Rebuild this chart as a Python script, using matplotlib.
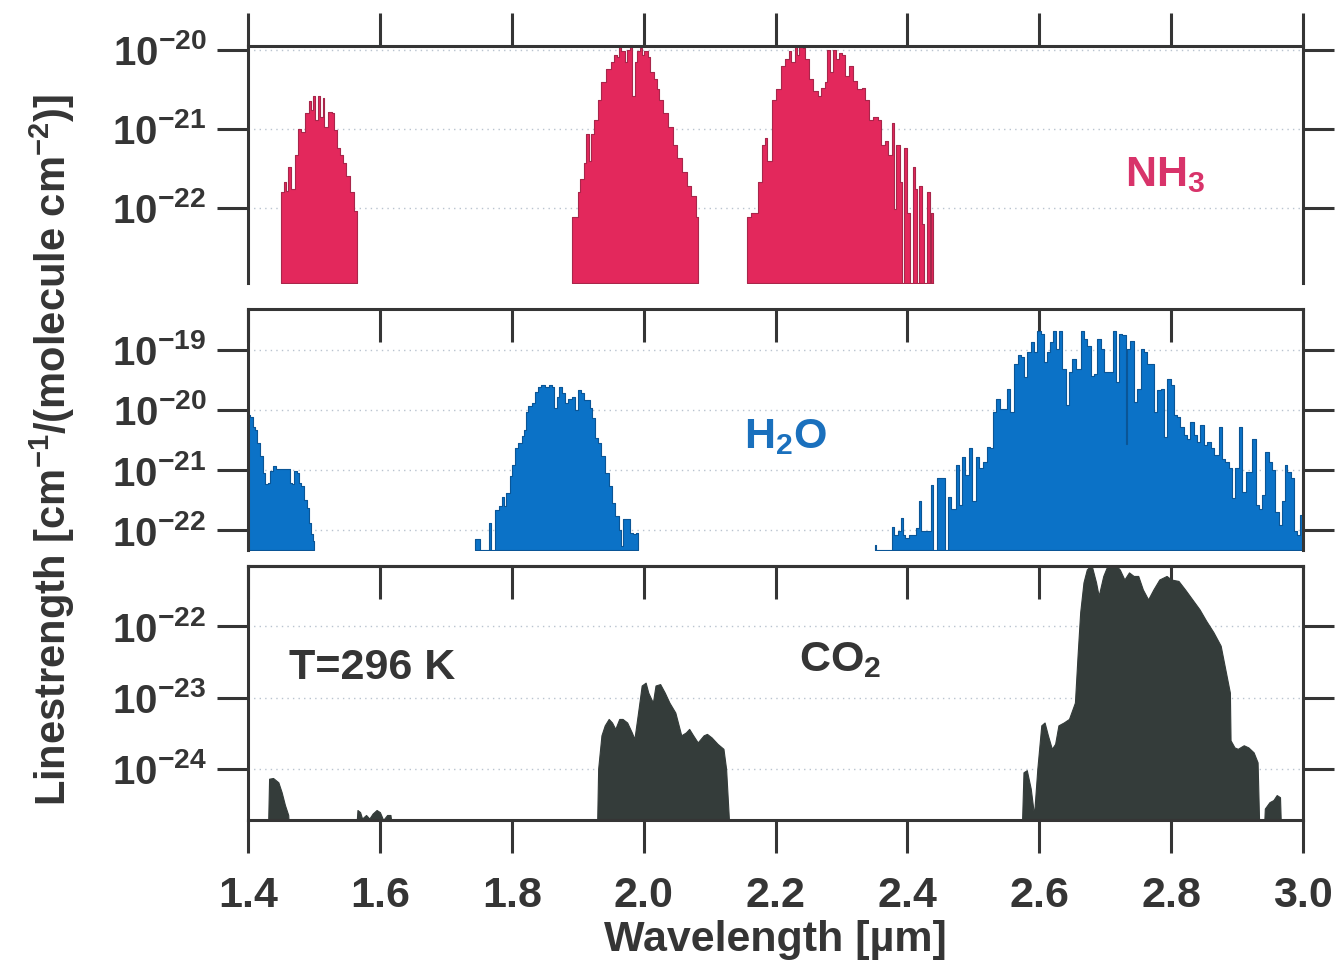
import numpy as np
import matplotlib.pyplot as plt
from matplotlib.ticker import NullLocator

plt.rcParams['font.family'] = ['Liberation Sans', 'DejaVu Sans']
plt.rcParams['font.weight'] = 'bold'
plt.rcParams['mathtext.fontset'] = 'custom'
plt.rcParams['mathtext.rm'] = 'Liberation Sans:bold'
plt.rcParams['mathtext.it'] = 'Liberation Sans:bold:italic'
plt.rcParams['mathtext.bf'] = 'Liberation Sans:bold'
plt.rcParams['mathtext.default'] = 'regular'

# (wavelength um, log10 linestrength); -30 = gap between lines
nh3_band1 = [(1.450, -21.80), (1.451, -21.80), (1.455, -21.67), (1.458, -21.78), (1.461, -21.48),
             (1.465, -21.76), (1.471, -21.33), (1.476, -21.00), (1.481, -21.04), (1.486, -20.80),
             (1.492, -20.65), (1.495, -20.76), (1.499, -20.59), (1.502, -20.89), (1.506, -20.59),
             (1.509, -20.85), (1.513, -20.61), (1.516, -20.98), (1.521, -20.78), (1.527, -20.80),
             (1.530, -21.02), (1.535, -21.24), (1.539, -21.33), (1.544, -21.43), (1.549, -21.59),
             (1.555, -21.80), (1.560, -22.04), (1.565, -22.22)]
nh3_band2 = [(1.892, -22.11), (1.901, -21.80), (1.904, -21.63), (1.910, -21.43), (1.913, -21.07),
             (1.917, -21.41), (1.920, -21.07), (1.925, -20.89), (1.931, -20.63), (1.936, -20.41),
             (1.943, -20.24), (1.950, -20.15), (1.955, -20.07), (1.959, -20.09), (1.962, -19.96),
             (1.966, -20.02), (1.971, -20.15), (1.974, -20.00), (1.980, -19.93), (1.983, -20.59),
             (1.987, -20.15), (1.990, -20.02), (1.994, -19.98), (1.997, -20.07), (2.001, -20.02),
             (2.006, -20.09), (2.009, -20.28), (2.015, -20.37), (2.020, -20.50), (2.024, -20.63),
             (2.030, -20.80), (2.037, -20.98), (2.044, -21.20), (2.051, -21.37), (2.058, -21.54),
             (2.065, -21.72), (2.072, -21.85), (2.079, -22.11), (2.083, -22.22)]
nh3_band3 = [(2.156, -22.11), (2.163, -22.07), (2.173, -21.67), (2.180, -21.20), (2.184, -21.11),
             (2.187, -21.41), (2.194, -20.63), (2.201, -20.50), (2.208, -20.20), (2.215, -20.11),
             (2.220, -20.02), (2.224, -20.15), (2.229, -19.93), (2.233, -20.07), (2.236, -19.89),
             (2.241, -19.98), (2.245, -20.11), (2.250, -20.37), (2.257, -20.52), (2.264, -20.59),
             (2.269, -20.48), (2.275, -20.41), (2.278, -20.00), (2.283, -20.28), (2.287, -20.00),
             (2.292, -20.11), (2.296, -20.04), (2.301, -20.07), (2.306, -20.33), (2.311, -20.20),
             (2.317, -20.39), (2.324, -20.50), (2.331, -20.48), (2.336, -20.63), (2.341, -20.89),
             (2.348, -20.85), (2.355, -20.89), (2.360, -21.20), (2.366, -21.15), (2.371, -21.33),
             (2.376, -20.93), (2.380, -22.02), (2.383, -21.20), (2.388, -21.67), (2.392, -30),
             (2.395, -21.24), (2.399, -22.07), (2.404, -30), (2.408, -21.48), (2.411, -21.76),
             (2.415, -30), (2.418, -21.72), (2.422, -22.20), (2.425, -30), (2.430, -21.80),
             (2.434, -30), (2.436, -22.07), (2.439, -30)]

h2o_band1 = [(1.400, -20.08), (1.403, -20.11), (1.407, -20.28), (1.411, -20.33), (1.414, -20.55),
             (1.418, -20.77), (1.422, -21.05), (1.426, -21.24), (1.431, -21.22), (1.434, -21.02),
             (1.438, -20.94), (1.443, -20.99), (1.451, -20.98), (1.459, -20.99), (1.463, -21.22),
             (1.466, -21.24), (1.470, -21.02), (1.474, -21.05), (1.478, -21.22), (1.481, -21.27),
             (1.485, -21.49), (1.489, -21.63), (1.493, -21.88), (1.496, -22.07), (1.498, -22.18),
             (1.500, -22.32)]
h2o_band2 = [(1.744, -22.15), (1.752, -30), (1.765, -21.88), (1.768, -30),
             (1.775, -21.66), (1.777, -21.66), (1.781, -21.60), (1.785, -21.44), (1.788, -21.60),
             (1.792, -21.38), (1.797, -21.10), (1.801, -20.91), (1.805, -20.64), (1.810, -20.55),
             (1.815, -20.44), (1.819, -20.33), (1.822, -20.03), (1.825, -19.94), (1.830, -19.89),
             (1.835, -19.70), (1.840, -19.61), (1.845, -19.59), (1.850, -19.61), (1.856, -19.59),
             (1.861, -19.61), (1.864, -19.97), (1.868, -19.78), (1.872, -19.61), (1.876, -19.72),
             (1.881, -19.89), (1.886, -19.81), (1.891, -19.78), (1.896, -20.00), (1.901, -19.67),
             (1.905, -19.72), (1.909, -19.83), (1.914, -19.83), (1.918, -19.97), (1.921, -20.14),
             (1.926, -20.47), (1.931, -20.55), (1.936, -20.77), (1.941, -21.05), (1.947, -21.27),
             (1.952, -21.55), (1.957, -21.77), (1.962, -21.99), (1.965, -22.27), (1.969, -21.82),
             (1.974, -21.82), (1.979, -22.04), (1.984, -22.07), (1.988, -22.04), (1.992, -22.32)]
h2o_band3 = [(2.351, -22.25), (2.353, -30),
             (2.377, -21.94), (2.380, -22.08), (2.385, -22.02), (2.390, -21.80), (2.394, -22.08),
             (2.397, -22.13), (2.403, -22.08), (2.408, -22.08), (2.413, -21.97), (2.418, -21.52),
             (2.421, -22.02), (2.425, -22.02), (2.430, -22.02), (2.435, -21.25), (2.439, -30),
             (2.445, -21.14), (2.453, -21.14), (2.457, -30), (2.462, -21.44), (2.466, -21.64),
             (2.473, -20.92), (2.478, -21.58), (2.483, -20.78), (2.488, -21.08), (2.493, -20.64),
             (2.498, -21.52), (2.504, -20.78), (2.509, -20.97), (2.514, -20.86), (2.520, -20.61),
             (2.525, -20.64), (2.530, -20.03), (2.535, -19.81), (2.540, -19.98), (2.545, -19.98),
             (2.551, -19.65), (2.556, -20.03), (2.561, -19.23), (2.567, -19.09), (2.572, -19.12),
             (2.577, -19.45), (2.582, -19.04), (2.587, -18.87), (2.592, -19.04), (2.596, -18.68),
             (2.602, -18.73), (2.607, -19.20), (2.611, -19.04), (2.616, -18.87), (2.620, -18.68),
             (2.625, -18.98), (2.630, -18.68), (2.635, -19.31), (2.640, -19.92), (2.645, -19.37),
             (2.650, -19.15), (2.655, -19.31), (2.663, -18.68), (2.668, -18.82), (2.673, -18.93),
             (2.678, -19.43), (2.683, -19.40), (2.688, -18.82), (2.693, -18.98), (2.698, -19.37),
             (2.703, -19.37), (2.711, -18.68), (2.716, -19.54), (2.721, -18.73), (2.726, -18.76),
             (2.731, -20.56), (2.733, -18.98), (2.738, -18.85), (2.743, -19.87), (2.748, -19.65),
             (2.754, -18.98), (2.759, -19.04), (2.764, -19.23), (2.769, -19.23), (2.774, -20.03),
             (2.779, -19.67), (2.784, -19.65), (2.789, -20.45), (2.794, -19.48), (2.799, -19.59),
             (2.804, -20.09), (2.809, -20.12), (2.814, -20.28), (2.819, -20.42), (2.824, -20.48),
             (2.829, -20.20), (2.834, -20.42), (2.839, -20.53), (2.844, -20.25), (2.849, -20.59),
             (2.855, -20.53), (2.860, -20.64), (2.865, -20.75), (2.872, -20.28), (2.877, -20.81),
             (2.882, -20.86), (2.887, -20.97), (2.892, -21.47), (2.897, -20.97), (2.903, -20.28),
             (2.908, -21.36), (2.913, -21.03), (2.918, -21.03), (2.923, -20.48), (2.928, -21.58),
             (2.933, -21.64), (2.938, -21.41), (2.943, -20.70), (2.948, -20.86), (2.953, -21.00),
             (2.958, -21.69), (2.963, -21.91), (2.968, -21.52), (2.972, -20.92), (2.976, -21.03),
             (2.981, -21.14), (2.986, -22.02), (2.991, -22.08), (2.996, -21.75), (3.000, -21.14)]

co2_band1 = [(1.430, -25), (1.432, -24.14), (1.438, -24.13), (1.446, -24.19), (1.451, -24.33),
             (1.456, -24.51), (1.461, -24.65), (1.463, -25)]
co2_band2 = [(1.563, -25), (1.566, -24.58), (1.570, -24.61), (1.573, -24.70), (1.579, -24.65),
             (1.584, -24.70), (1.589, -24.63), (1.595, -24.58), (1.600, -24.61), (1.605, -24.72),
             (1.611, -24.65), (1.616, -24.65), (1.621, -25)]
co2_band3 = [(1.929, -25), (1.931, -24.00), (1.936, -23.53), (1.941, -23.39), (1.947, -23.30),
             (1.952, -23.35), (1.957, -23.44), (1.963, -23.30), (1.968, -23.30), (1.975, -23.35),
             (1.982, -23.49), (1.986, -23.58), (1.993, -23.11), (1.997, -22.83), (2.003, -22.79),
             (2.007, -22.93), (2.014, -23.07), (2.018, -22.83), (2.025, -22.81), (2.032, -22.93),
             (2.039, -23.07), (2.048, -23.21), (2.057, -23.53), (2.064, -23.49), (2.069, -23.44),
             (2.075, -23.53), (2.082, -23.63), (2.091, -23.53), (2.096, -23.51), (2.103, -23.56),
             (2.112, -23.65), (2.121, -23.72), (2.125, -24.00), (2.131, -25)]
co2_band4 = [(2.573, -25), (2.576, -24.05), (2.581, -24.02), (2.587, -24.28), (2.592, -24.65),
             (2.597, -24.00), (2.603, -23.39), (2.608, -23.35), (2.613, -23.53), (2.619, -23.72),
             (2.624, -23.65), (2.629, -23.39), (2.637, -23.35), (2.645, -23.30), (2.654, -23.07),
             (2.658, -22.41), (2.662, -21.80), (2.667, -21.38), (2.672, -21.20), (2.679, -21.13),
             (2.686, -21.38), (2.690, -21.57), (2.697, -21.29), (2.704, -21.13), (2.715, -21.13),
             (2.722, -21.20), (2.729, -21.34), (2.736, -21.24), (2.743, -21.29), (2.750, -21.29),
             (2.757, -21.48), (2.765, -21.62), (2.773, -21.48), (2.782, -21.34), (2.793, -21.29),
             (2.800, -21.34), (2.811, -21.36), (2.821, -21.48), (2.832, -21.62), (2.843, -21.76),
             (2.853, -21.92), (2.864, -22.08), (2.875, -22.27), (2.882, -22.60), (2.889, -22.93),
             (2.890, -23.60), (2.896, -23.70), (2.901, -23.72), (2.910, -23.67), (2.917, -23.70),
             (2.925, -23.77), (2.931, -23.91), (2.934, -25)]
co2_band5 = [(2.940, -25), (2.942, -24.56), (2.949, -24.47), (2.955, -24.44), (2.960, -24.37),
             (2.965, -24.40), (2.967, -25)]

xticks = [1.4, 1.6, 1.8, 2.0, 2.2, 2.4, 2.6, 2.8, 3.0]
xticklabels = ['1.4', '1.6', '1.8', '2.0', '2.2', '2.4', '2.6', '2.8', '3.0']
nh3_decades = [-20, -21, -22]
h2o_decades = [-19, -20, -21, -22]
co2_decades = [-22, -23, -24]

dark = '#353535'
gridc = '#b9c3cf'
nh3_col = '#e3285c'
h2o_col = '#0b72c7'
co2_col = '#343c3a'

fig = plt.figure(figsize=(13.42, 9.69), dpi=100)
ax1 = fig.add_axes([0.1848, 0.708, 0.7862, 0.2446])
ax2 = fig.add_axes([0.1848, 0.4324, 0.7862, 0.2487])
ax3 = fig.add_axes([0.1848, 0.1538, 0.7862, 0.2621])


def style(ax, ylo, yhi, decades):
    ax.set_xlim(1.4, 3.0)
    ax.set_yscale('log')
    ax.set_ylim(10.0 ** ylo, 10.0 ** yhi)
    ax.set_yticks([10.0 ** d for d in decades], labels=[r'$10^{%d}$' % d for d in decades])
    ax.yaxis.set_minor_locator(NullLocator())
    ax.xaxis.set_minor_locator(NullLocator())
    ax.tick_params(axis='y', which='major', direction='out', left=True, right=True,
                   length=22, width=2.2, pad=8, labelsize=29, colors=dark)
    for d in decades:
        ax.axhline(10.0 ** d, color=gridc, lw=1.0, ls=(0, (1, 3)), zorder=0)
    ax.set_xticks(xticks)
    for s in ax.spines.values():
        s.set_linewidth(2.2)
        s.set_color(dark)


def draw_steps(ax, band, floor, color, edge):
    arr = np.array(band)
    ax.fill_between(arr[:, 0], 10.0 ** arr[:, 1], floor, step='post',
                    facecolor=color, edgecolor=edge, lw=0.8, zorder=2)


def draw_smooth(ax, band, floor, color):
    arr = np.array(band)
    ax.fill_between(arr[:, 0], 10.0 ** arr[:, 1], floor,
                    facecolor=color, edgecolor=color, lw=0.8, zorder=2)


style(ax1, -22.95, -19.95, nh3_decades)
style(ax2, -22.33, -18.32, h2o_decades)
style(ax3, -24.72, -21.15, co2_decades)

f1 = 10.0 ** -22.95
for b in [nh3_band1, nh3_band2, nh3_band3]:
    draw_steps(ax1, b, f1, nh3_col, '#a8264a')
f2 = 10.0 ** -22.33
for b in [h2o_band1, h2o_band2, h2o_band3]:
    draw_steps(ax2, b, f2, h2o_col, '#0a5596')
f3 = 10.0 ** -24.72
for b in [co2_band1, co2_band2, co2_band3, co2_band4, co2_band5]:
    draw_smooth(ax3, b, f3, co2_col)

# x ticks: outward on top of panel 1, inward on top of panels 2/3, outward under panel 3
ax1.spines['bottom'].set_visible(False)
ax2.spines['bottom'].set_visible(False)
ax1.tick_params(axis='x', top=True, bottom=False, direction='out', length=24, width=2.2,
                labelbottom=False, labeltop=False, colors=dark)
ax2.tick_params(axis='x', top=True, bottom=False, direction='in', length=24, width=2.2,
                labelbottom=False, labeltop=False, colors=dark)
ax3.set_xticks(xticks, labels=xticklabels)
ax3.tick_params(axis='x', top=False, bottom=True, direction='out', length=24, width=2.2,
                pad=16, labelsize=31, colors=dark)
sec = ax3.secondary_xaxis('top')
sec.set_xticks(xticks, labels=[''] * len(xticks))
sec.tick_params(axis='x', direction='in', length=24, width=2.2, colors=dark)
sec.spines['top'].set_linewidth(2.2)
sec.spines['top'].set_color(dark)

fig.text(0.868, 0.819, 'NH$_3$', fontsize=31, color='#d8336a', ha='center', va='center')
fig.text(0.585, 0.549, 'H$_2$O', fontsize=31, color='#1a70bd', ha='center', va='center')
fig.text(0.626, 0.319, 'CO$_2$', fontsize=31, color=dark, ha='center', va='center')
fig.text(0.277, 0.311, 'T=296 K', fontsize=31, color=dark, ha='center', va='center')

fig.text(0.039, 0.536, 'Linestrength [cm$^{-1}$/(molecule cm$^{-2}$)]', fontsize=30,
         color=dark, rotation=90, ha='center', va='center')
fig.text(0.578, 0.030, 'Wavelength [µm]', fontsize=31, color=dark, ha='center', va='center')

fig.savefig('out.png', dpi=100)
